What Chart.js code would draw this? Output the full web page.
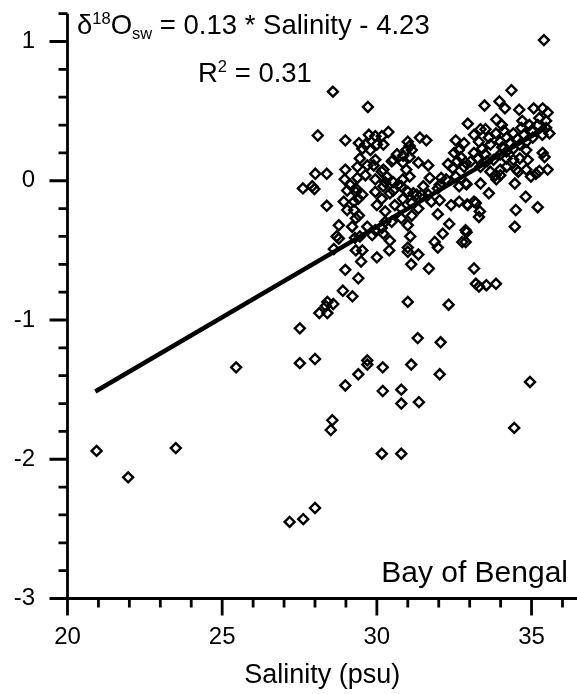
<!DOCTYPE html>
<html>
<head>
<meta charset="utf-8">
<script src="https://cdn.jsdelivr.net/npm/chart.js@4.4.0/dist/chart.umd.min.js"></script>
<style>
  html, body { margin: 0; padding: 0; background: #fff; }
</style>
</head>
<body>
<canvas id="myChart" width="577" height="694"></canvas>
<script>
// surface salinity (psu) of each sample
var salinity = [
  20.94, 21.96, 23.50, 25.45, 27.51, 27.51, 28.00, 28.14, 28.40, 28.40,
  28.59, 28.90, 29.21, 28.98, 29.40, 29.49, 30.00, 29.32, 30.40, 31.00,
  31.34, 31.11, 31.68, 31.00, 31.32, 32.06, 32.03, 29.69, 29.69, 30.19,
  31.11, 29.40, 28.98, 30.19, 30.79, 30.79, 31.36, 28.56, 28.51, 30.16,
  30.79, 27.18, 27.62, 28.00, 33.14, 33.20, 33.30, 33.54, 33.85, 34.46,
  34.49, 34.81, 35.20, 32.90, 32.87, 32.94, 33.20, 33.33, 33.30, 33.62,
  33.35, 32.90, 33.86, 33.99, 34.46, 34.51, 34.83, 34.98, 35.25, 35.52,
  35.42, 34.19, 34.62, 34.88, 35.40, 34.35, 33.48, 33.96, 34.14, 34.60,
  35.07, 35.36, 35.52, 33.86, 34.04, 32.94, 33.51, 35.58, 35.36, 28.58,
  29.71, 28.09, 28.98, 29.42, 29.63, 29.74, 29.95, 29.45, 29.69, 29.95,
  28.01, 28.38, 28.98, 28.96, 27.61, 27.91, 27.98, 29.37, 29.63, 29.04,
  29.32, 29.53, 28.38, 28.93, 29.04, 28.77, 28.70, 28.77, 28.61, 29.29,
  29.53, 28.35, 31.39, 30.16, 30.37, 30.00, 30.21, 31.00, 31.13, 30.53,
  30.84, 31.06, 31.34, 31.66, 29.90, 30.21, 30.32, 30.95, 31.06, 30.84,
  31.71, 31.50, 32.50, 32.71, 32.87, 32.45, 32.55, 32.24, 32.03, 32.66,
  32.87, 29.95, 30.21, 30.53, 30.79, 31.18, 31.45, 32.03, 32.40, 32.66,
  32.92, 31.97, 32.34, 32.13, 31.87, 31.97, 32.87, 32.76, 31.00, 31.08,
  31.00, 30.42, 30.21, 32.32, 29.53, 29.79, 31.06, 30.95, 31.60, 29.37,
  30.48, 29.14, 29.32, 30.16, 30.27, 30.53, 30.69, 29.26, 29.32, 29.42,
  29.26, 29.95, 30.00, 30.16, 30.27, 30.42, 30.58, 30.84, 30.79, 31.00,
  31.13, 31.29, 32.08, 29.69, 29.95, 30.27, 33.14, 32.55, 32.82, 33.14,
  33.35, 33.14, 33.40, 33.67, 33.99, 34.19, 34.41, 34.67, 34.93, 35.25,
  35.47, 32.60, 32.82, 33.04, 33.25, 33.35, 33.56, 33.77, 33.99, 34.19,
  34.41, 34.62, 34.83, 35.04, 34.83, 34.41, 34.19, 33.99, 33.83, 33.67,
  34.57, 35.14, 35.47, 31.66, 31.97, 31.76, 31.34, 31.13, 30.79, 30.48,
  30.16, 29.85, 34.95, 34.44, 29.20, 29.45, 29.40, 30.65, 30.85, 33.30,
  33.62, 33.85, 34.05, 34.30, 34.55, 34.75, 35.00, 35.20, 35.35, 32.30,
  32.65, 33.50, 34.10, 34.70
];

// seawater d18O (permil) of the same samples
var d18O = [
  -1.94, -2.13, -1.92, -1.34, -1.06, -1.31, -1.28, -0.95, -0.95, -0.87,
  -0.885, -0.79, -0.83, -0.64, -0.70, -0.58, -0.55, -0.50, -0.50, -0.51,
  -0.53, -0.60, -0.63, -0.87, -1.13, -1.16, -1.39, -1.29, -1.32, -1.34,
  -1.32, -1.39, -1.47, -1.51, -1.50, -1.60, -1.59, -1.72, -1.79, -1.96,
  -1.96, -2.45, -2.43, -2.35, -0.63, -0.74, -0.76, -0.75, -0.74, -0.33,
  -0.21, -0.115, -0.19, -0.37, -0.44, -0.175, -0.16, -0.22, -0.26, -0.09,
  -0.02, -0.025, 0.01, 0.04, -0.02, 0.08, 0.08, 0.03, 0.07, 0.08,
  0.17, 0.16, 0.16, 0.15, 1.01, 0.65, 0.54, 0.57, 0.52, 0.51,
  0.52, 0.52, 0.49, 0.44, 0.40, 0.41, 0.37, 0.34, 0.20, 0.64,
  0.53, 0.325, 0.29, 0.27, 0.26, 0.33, 0.32, 0.16, 0.11, 0.15,
  0.05, 0.05, 0.08, 0.01, -0.055, -0.04, -0.06, 0.02, 0.04, -0.07,
  -0.055, -0.10, -0.18, -0.15, -0.21, -0.32, -0.40, -0.415, -0.49, -0.41,
  -0.50, -0.90, 0.31, 0.32, 0.35, 0.26, 0.26, 0.28, 0.22, 0.15,
  0.13, 0.17, 0.13, 0.11, 0.11, 0.08, 0.03, 0.08, 0.03, 0.01,
  0.02, -0.04, 0.20, 0.17, 0.13, 0.09, 0.03, 0.01, -0.03, -0.04,
  -0.02, 0.01, -0.04, -0.07, -0.04, -0.09, -0.10, -0.14, -0.175, -0.15,
  -0.17, -0.24, -0.31, -0.38, -0.44, -0.48, -0.355, -0.44, -0.32, -0.40,
  -0.48, -0.43, -0.38, -0.89, 0.23, 0.22, 0.25, 0.22, 0.29, 0.10,
  0.14, -0.03, -0.08, 0.065, -0.01, -0.01, -0.03, -0.21, -0.27, -0.25,
  -0.15, -0.08, -0.175, -0.13, -0.22, -0.09, -0.175, -0.13, -0.20, -0.08,
  -0.16, -0.10, 0.02, -0.33, -0.355, -0.295, -0.15, 0.29, 0.27, 0.33,
  0.37, 0.20, 0.23, 0.26, 0.28, 0.31, 0.34, 0.38, 0.40, 0.45,
  0.43, 0.14, 0.10, 0.14, 0.16, 0.10, 0.14, 0.15, 0.19, 0.21,
  0.23, 0.26, 0.28, 0.31, 0.22, 0.15, 0.10, 0.08, 0.04, 0.065,
  0.065, 0.05, 0.38, -0.10, -0.055, -0.15, -0.20, -0.25, -0.27, -0.295,
  -0.34, -0.39, -1.445, -1.775, -0.33, -0.40, -0.13, 0.19, 0.18, 0.28,
  0.31, 0.34, 0.24, 0.27, 0.30, 0.33, 0.36, 0.40, 0.33, 0.12,
  0.22, 0.19, 0.36, 0.43
];

// least squares fit: d18O = 0.13 * S - 4.23
var slope = 0.13;
var intercept = -4.23;
var fitEnds = [20.9, 35.5];

// axis ticks
var xMajor = [20, 25, 30, 35];
var xMinor = [21, 22, 23, 24, 26, 27, 28, 29, 31, 32, 33, 34, 36];
var yMajor = [-3, -2, -1, 0, 1];
var yMinor = [-2.8, -2.6, -2.4, -2.2, -1.8, -1.6, -1.4, -1.2, -0.8, -0.6, -0.4, -0.2,
              0.2, 0.4, 0.6, 0.8, 1.2];

var xMin = 20, xMax = 36.23, yMin = -3, yMax = 1.2;
var font = '"Liberation Sans", Arial, sans-serif';

var points = salinity.map(function (s, i) { return {x: s, y: d18O[i]}; });
var fitLine = fitEnds.map(function (s) { return {x: s, y: slope * s + intercept}; });

// axes with outward ticks, labels and the annotation texts
var frame = {
  id: 'frame',
  afterDraw: function (chart) {
    var ctx = chart.ctx, xs = chart.scales.x, ys = chart.scales.y;
    var x0 = xs.getPixelForValue(xMin), y0 = ys.getPixelForValue(yMin);
    ctx.save();
    ctx.strokeStyle = '#000';
    ctx.lineWidth = 2.8;
    ctx.beginPath();
    ctx.moveTo(x0, ys.getPixelForValue(yMax));
    ctx.lineTo(x0, y0);
    ctx.moveTo(x0, y0);
    ctx.lineTo(chart.width, y0);
    xMajor.forEach(function (v) { var p = xs.getPixelForValue(v); ctx.moveTo(p, y0); ctx.lineTo(p, y0 + 17); });
    xMinor.forEach(function (v) { var p = xs.getPixelForValue(v); ctx.moveTo(p, y0); ctx.lineTo(p, y0 + 9); });
    yMajor.forEach(function (v) { var p = ys.getPixelForValue(v); ctx.moveTo(x0, p); ctx.lineTo(x0 - 18, p); });
    yMinor.forEach(function (v) { var p = ys.getPixelForValue(v); ctx.moveTo(x0, p); ctx.lineTo(x0 - 9, p); });
    ctx.stroke();

    ctx.fillStyle = '#000';
    ctx.font = '24px ' + font;
    ctx.textAlign = 'center';
    ctx.textBaseline = 'middle';
    xMajor.forEach(function (v) { ctx.fillText(String(v), xs.getPixelForValue(v), 637); });
    ctx.textAlign = 'right';
    yMajor.forEach(function (v) { ctx.fillText(String(v), 35, ys.getPixelForValue(v)); });

    ctx.font = '27px ' + font;
    ctx.textAlign = 'center';
    ctx.fillText('Salinity (psu)', (x0 + chart.width) / 2, 676);

    ctx.font = '30px ' + font;
    ctx.textAlign = 'right';
    ctx.textBaseline = 'alphabetic';
    ctx.fillText('Bay of Bengal', 568, 582);

    // regression equation with super/subscripts
    var bx = 77, by = 34;
    ctx.textAlign = 'left';
    var parts = [
      ['\u03B4', 27.5, 0], ['18', 16.5, -10], ['O', 27.5, 0], ['sw', 16.5, 5],
      [' = ' + slope.toFixed(2) + ' * Salinity - ' + Math.abs(intercept).toFixed(2), 27.5, 0]
    ];
    parts.forEach(function (p) {
      ctx.font = p[1] + 'px ' + font;
      ctx.fillText(p[0], bx, by + p[2]);
      bx += ctx.measureText(p[0]).width;
    });
    // R squared
    var rx = 198, ry = 82;
    ctx.font = '27.5px ' + font;
    ctx.fillText('R', rx, ry);
    rx += ctx.measureText('R').width;
    ctx.font = '16.5px ' + font;
    ctx.fillText('2', rx, ry - 10);
    rx += ctx.measureText('2').width;
    ctx.font = '27.5px ' + font;
    ctx.fillText(' = 0.31', rx, ry);
    ctx.restore();
  }
};

var ctx = document.getElementById('myChart').getContext('2d');
var chart = new Chart(ctx, {
  type: 'scatter',
  data: {
    datasets: [{
      data: points,
      pointStyle: 'rectRot',
      pointRadius: 5,
      pointBorderWidth: 2.4,
      borderColor: '#000',
      backgroundColor: 'rgba(0,0,0,0)',
      clip: false
    }, {
      type: 'line',
      data: fitLine,
      borderColor: '#000',
      borderWidth: 4.5,
      pointRadius: 0,
      fill: false,
      clip: false
    }]
  },
  options: {
    responsive: false,
    animation: false,
    devicePixelRatio: 1,
    layout: { padding: { left: 67.5, right: 0, top: 13.65, bottom: 95.5 } },
    scales: {
      x: { type: 'linear', min: xMin, max: xMax, display: false },
      y: { type: 'linear', min: yMin, max: yMax, display: false }
    },
    plugins: {
      legend: { display: false },
      tooltip: { enabled: false }
    }
  },
  plugins: [frame]
});
</script>
</body>
</html>
